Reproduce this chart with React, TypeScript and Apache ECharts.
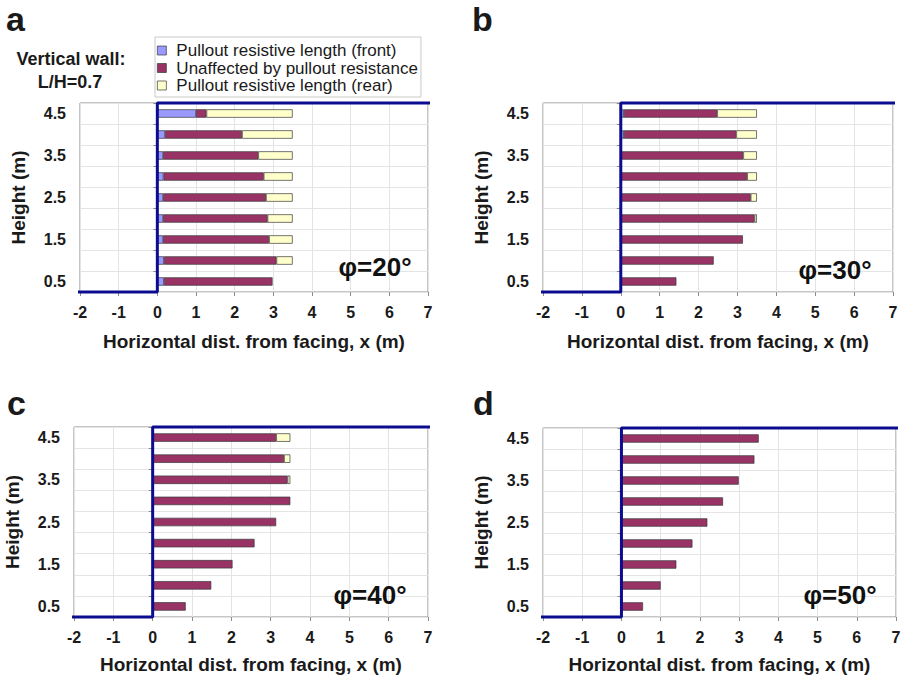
import React, { useEffect, useRef } from "react";
import * as echarts from "echarts";

// Reinforcement levels (m), listed bottom to top
const heights = ["0.5", "1.0", "1.5", "2.0", "2.5", "3.0", "3.5", "4.0", "4.5"];
const xTicks = { min: -2, max: 7, step: 1 };

// φ = 20°
const frontA = [0.17, 0.17, 0.15, 0.15, 0.15, 0.16, 0.15, 0.2, 1.0];
const unaffectedA = [2.81, 2.91, 2.74, 2.7, 2.66, 2.59, 2.46, 1.99, 0.27];
const rearA = [0, 0.42, 0.61, 0.65, 0.69, 0.75, 0.89, 1.31, 2.23];

// φ = 30°
const frontB = [0, 0, 0, 0, 0, 0, 0, 0.08, 0.08];
const unaffectedB = [1.43, 2.39, 3.14, 3.44, 3.34, 3.25, 3.15, 2.89, 2.4];
const rearB = [0, 0, 0, 0.06, 0.16, 0.25, 0.35, 0.53, 1.02];

// φ = 40°
const frontC = [0, 0, 0, 0, 0, 0, 0, 0, 0];
const unaffectedC = [0.84, 1.49, 2.03, 2.59, 3.14, 3.5, 3.43, 3.34, 3.14];
const rearC = [0, 0, 0, 0, 0, 0, 0.07, 0.16, 0.36];

// φ = 50°
const frontD = [0, 0, 0, 0, 0, 0, 0, 0, 0];
const unaffectedD = [0.55, 1.0, 1.4, 1.81, 2.19, 2.59, 2.99, 3.39, 3.5];
const rearD = [0, 0, 0, 0, 0, 0, 0, 0, 0];

// Wall / ground profile: x (m) and level index (0 = base, 9 = crest)
const wallX = [-2.32, 0, 0, 7.31];
const wallLevel = [0, 0, 9, 9];

const seriesNames = [
  "Pullout resistive length (front)",
  "Unaffected by pullout resistance",
  "Pullout resistive length (rear)",
];
const seriesColors = ["#9999FF", "#993366", "#FFFFCC"];

const panelLetters = ["a", "b", "c", "d"];
const frictionLabels = ["φ=20°", "φ=30°", "φ=40°", "φ=50°"];
const panelData = [
  [frontA, unaffectedA, rearA],
  [frontB, unaffectedB, rearB],
  [frontC, unaffectedC, rearC],
  [frontD, unaffectedD, rearD],
];

const FONT = "'Liberation Sans', Arial, Helvetica, sans-serif";
const TEXT = "#1a1a1a";

// Grid rectangles (px) for the four panels
const grids = [
  { left: 80, top: 103, width: 348, height: 189, xGap: 40 },
  { left: 543, top: 103, width: 350, height: 189, xGap: 40 },
  { left: 74, top: 427, width: 354, height: 190, xGap: 38 },
  { left: 543, top: 428, width: 353, height: 189, xGap: 38 },
];
const letterPos = [
  [6, 19],
  [472, 19],
  [7, 403],
  [473, 403],
];
const phiPos = [
  [375, 267],
  [835, 270],
  [370, 595],
  [840, 595],
];

export default function App() {
  const ref = useRef<HTMLDivElement>(null);

  useEffect(() => {
    if (!ref.current) return;
    const chart = echarts.init(ref.current, undefined, { renderer: "svg" });

    const xAxis = grids.map((g, i) => ({
      type: "value",
      gridIndex: i,
      min: xTicks.min,
      max: xTicks.max,
      interval: xTicks.step,
      axisLine: { show: false },
      axisTick: { show: true, length: 4, lineStyle: { color: "#8c8c8c" } },
      splitLine: { show: true, lineStyle: { color: "#e4e4e4", width: 1 } },
      axisLabel: {
        margin: 12,
        fontSize: 16,
        fontWeight: "bold",
        color: TEXT,
        fontFamily: FONT,
      },
      name: "Horizontal dist. from facing, x (m)",
      nameLocation: "middle",
      nameGap: g.xGap,
      nameTextStyle: {
        fontSize: 19,
        fontWeight: "bold",
        color: TEXT,
        fontFamily: FONT,
      },
    }));

    const yAxis: any[] = [];
    grids.forEach((g, i) => {
      yAxis.push({
        type: "category",
        gridIndex: i,
        data: heights,
        axisLine: { show: false },
        axisTick: {
          show: true,
          interval: 0,
          length: 4,
          lineStyle: { color: "#8c8c8c" },
        },
        splitLine: {
          show: true,
          interval: 0,
          lineStyle: { color: "#e4e4e4", width: 1 },
        },
        axisLabel: {
          interval: 1,
          margin: 14,
          fontSize: 16,
          fontWeight: "bold",
          color: TEXT,
          fontFamily: FONT,
        },
        name: "Height (m)",
        nameLocation: "middle",
        nameGap: 52,
        nameTextStyle: {
          fontSize: 19,
          fontWeight: "bold",
          color: TEXT,
          fontFamily: FONT,
        },
      });
      yAxis.push({
        type: "value",
        gridIndex: i,
        min: 0,
        max: heights.length,
        show: false,
      });
    });

    const series: any[] = [];
    panelData.forEach((parts, i) => {
      parts.forEach((vals, k) => {
        series.push({
          type: "bar",
          name: seriesNames[k],
          xAxisIndex: i,
          yAxisIndex: 2 * i,
          stack: "len" + i,
          barWidth: "40%",
          data: vals.map((v) => (v > 0 ? v : null)),
          itemStyle: {
            color: seriesColors[k],
            borderColor: "#3a3a3a",
            borderWidth: 0.7,
          },
          z: 3,
        });
      });
      series.push({
        type: "line",
        name: "wall",
        xAxisIndex: i,
        yAxisIndex: 2 * i + 1,
        data: wallX.map((x, j) => [x, wallLevel[j]]),
        symbol: "none",
        clip: false,
        lineStyle: { color: "#0c0c8f", width: 3 },
        z: 5,
        silent: true,
      });
    });

    const graphic: any[] = [];
    panelLetters.forEach((t, i) => {
      graphic.push({
        type: "text",
        x: letterPos[i][0],
        y: letterPos[i][1],
        style: {
          text: t,
          font: `bold 34px ${FONT}`,
          fill: TEXT,
          verticalAlign: "middle",
        },
      });
      graphic.push({
        type: "text",
        x: phiPos[i][0],
        y: phiPos[i][1],
        z: 10,
        style: {
          text: frictionLabels[i],
          font: `bold 26px ${FONT}`,
          fill: "#111",
          align: "center",
          verticalAlign: "middle",
        },
      });
    });
    graphic.push(
      {
        type: "text",
        x: 71,
        y: 59,
        style: {
          text: "Vertical wall:",
          font: `bold 18px ${FONT}`,
          fill: TEXT,
          align: "center",
          verticalAlign: "middle",
        },
      },
      {
        type: "text",
        x: 70,
        y: 82,
        style: {
          text: "L/H=0.7",
          font: `bold 18px ${FONT}`,
          fill: TEXT,
          align: "center",
          verticalAlign: "middle",
        },
      }
    );

    chart.setOption({
      animation: false,
      backgroundColor: "#ffffff",
      textStyle: { fontFamily: FONT },
      legend: {
        data: seriesNames,
        left: 155,
        top: 37,
        orient: "vertical",
        icon: "rect",
        itemWidth: 9,
        itemHeight: 9,
        itemGap: 0.5,
        padding: [5, 3, 3, 2],
        borderColor: "#c8c8c8",
        borderWidth: 1,
        selectedMode: false,
        itemStyle: { borderColor: "#3a3a3a", borderWidth: 0.7 },
        textStyle: {
          fontSize: 17,
          lineHeight: 17,
          color: TEXT,
          fontFamily: FONT,
          padding: [0, 0, 0, 5],
        },
      },
      grid: grids.map((g) => ({
        left: g.left,
        top: g.top,
        width: g.width,
        height: g.height,
        show: true,
        borderColor: "#8c8c8c",
        borderWidth: 1,
        backgroundColor: "#ffffff",
      })),
      xAxis,
      yAxis,
      series,
      graphic,
    });

    return () => chart.dispose();
  }, []);

  return (
    <div
      ref={ref}
      style={{ position: "absolute", left: 0, top: 0, width: 905, height: 685 }}
    />
  );
}
